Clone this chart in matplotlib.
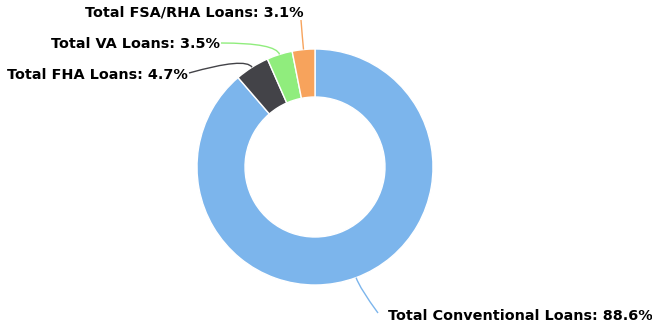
import numpy as np
import matplotlib.pyplot as plt
from matplotlib.path import Path
from matplotlib.patches import PathPatch

labels = ['Total Conventional Loans', 'Total FHA Loans', 'Total VA Loans', 'Total FSA/RHA Loans']
shares = [88.6, 4.7, 3.5, 3.1]
colors = ['#7cb5ec', '#434348', '#90ed7d', '#f7a35c']

# label text anchor (x, y) in pixel space, y measured from the top
label_pos = [(388, 316), (188, 75), (220, 44), (304, 13)]
label_ha = ['left', 'right', 'right', 'right']
# where each connector meets its label
line_end = [(378, 313), (189, 73), (221, 43), (301, 20)]

W, H = 652, 330
cx, cy, R, ring = 315, 167, 118, 48

fig = plt.figure(figsize=(W / 100, H / 100), dpi=100)
ax = fig.add_axes([0, 0, 1, 1])

wedges, _ = ax.pie(shares, colors=colors, startangle=90, counterclock=False,
                   center=(cx, H - cy), radius=R,
                   wedgeprops=dict(width=ring, edgecolor='white', linewidth=1))

# pie() resets the limits, so set the pixel frame afterwards
ax.set_xlim(0, W)
ax.set_ylim(0, H)
ax.set_aspect('equal')
ax.axis('off')

total = sum(shares)
cum = 0
for i, (lab, v) in enumerate(zip(labels, shares)):
    mid = 90 - (cum + v / 2) / total * 360
    cum += v
    a = np.deg2rad(mid)
    anchor = (cx + R * np.cos(a), H - cy + R * np.sin(a))
    elbow = (cx + (R + 12) * np.cos(a), H - cy + (R + 12) * np.sin(a))
    start = (line_end[i][0], H - line_end[i][1])
    path = Path([start, elbow, anchor], [Path.MOVETO, Path.CURVE3, Path.CURVE3])
    ax.add_patch(PathPatch(path, fill=False, edgecolor=colors[i], lw=1))
    ax.text(label_pos[i][0], H - label_pos[i][1], f'{lab}: {v}%',
            ha=label_ha[i], va='center', fontsize=10.4, fontweight='bold',
            color='black', family='DejaVu Sans')

fig.savefig('out.png', dpi=100)
